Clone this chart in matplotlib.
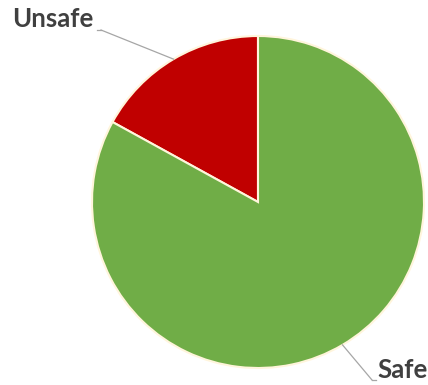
import numpy as np
import matplotlib.pyplot as plt

labels = ['Unsafe', 'Safe']
values = [17, 83]
colors = ['#C00000', '#70AD47']

# label positions (pixel coords of the text anchor) and leader elbows
label_pos = [(53, 366), (403, 15)]
elbow = [(101, 355), (372, 5)]

W, H = 428, 385
fig = plt.figure(figsize=(W / 100, H / 100), dpi=100)
ax = fig.add_axes([0, 0, 1, 1])

cx, cy, r = 258, H - 202, 166
wedges, _ = ax.pie(values, colors=colors, startangle=90, counterclock=True,
                   center=(cx, cy), radius=r, frame=True,
                   wedgeprops=dict(edgecolor='#FFF5DC', linewidth=1.5))
ax.set_xlim(0, W)
ax.set_ylim(0, H)
ax.set_aspect('equal')
ax.axis('off')

for w, lab, pos, el in zip(wedges, labels, label_pos, elbow):
    mid = np.deg2rad((w.theta1 + w.theta2) / 2)
    px, py = cx + r * np.cos(mid), cy + r * np.sin(mid)
    ax.plot([px, el[0]], [py, el[1]], color='#A6A6A6', lw=0.9, zorder=1)
    hx = el[0] - 4 if pos[0] < el[0] else el[0] + 4
    ax.plot([el[0], hx], [el[1], el[1]], color='#A6A6A6', lw=0.9, zorder=1)
    ax.text(pos[0], pos[1], lab, ha='center', va='center', fontsize=18.5,
            fontweight='bold', color='#404040', family='Lato')

fig.savefig('out.png', dpi=100)
